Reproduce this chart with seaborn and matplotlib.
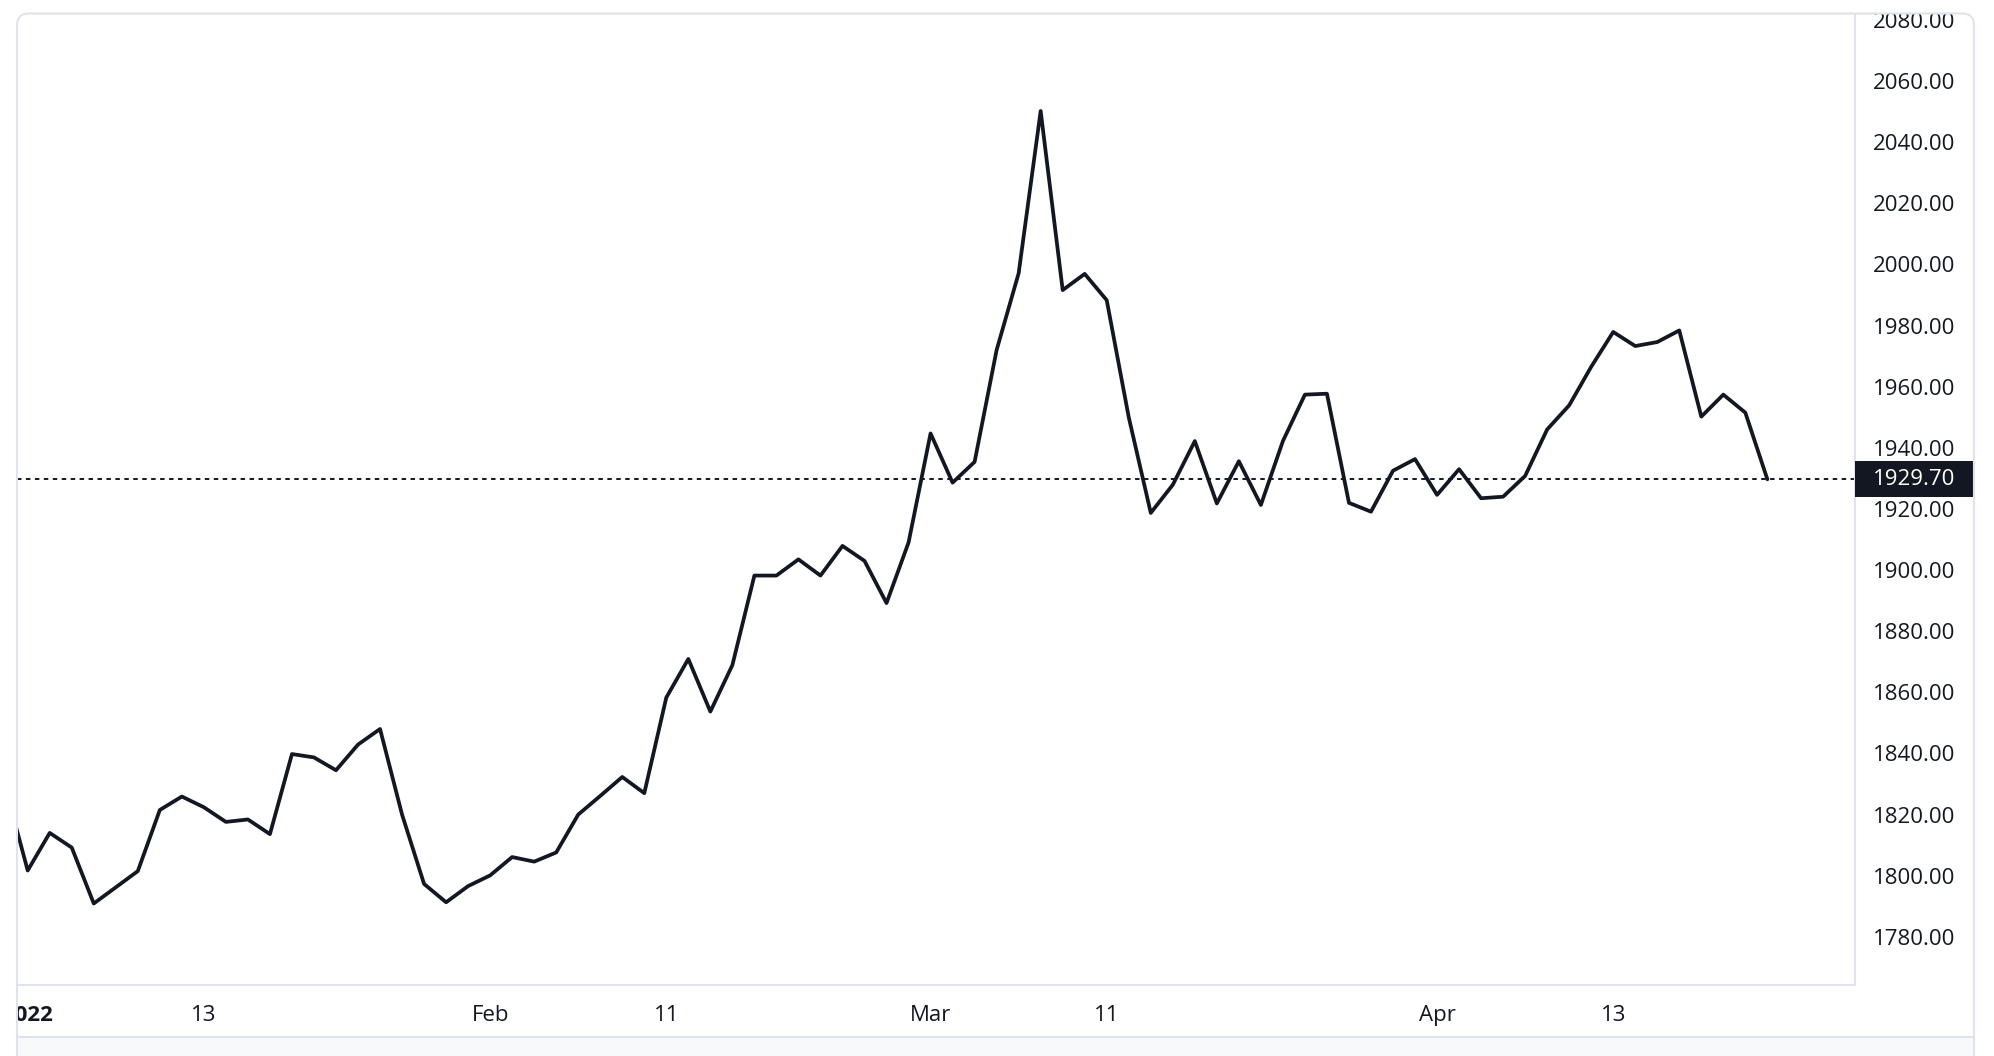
import numpy as np
import pandas as pd
import matplotlib
matplotlib.use("Agg")
import matplotlib.pyplot as plt
import matplotlib.transforms as mtransforms
from matplotlib.patches import Rectangle, FancyBboxPatch
import seaborn as sns

# daily closes, 31 Dec 2021 .. 22 Apr 2022 (one bar per weekday)
dates = pd.bdate_range("2021-12-31", "2022-04-22")
closes = [
    1828.6, 1801.7, 1814.0, 1809.2, 1790.9, 1796.2, 1801.5, 1821.5, 1825.9, 1822.4,
    1817.6, 1818.4, 1813.6, 1839.8, 1838.7, 1834.5, 1842.9, 1848.0, 1820.0, 1797.3,
    1791.3, 1796.6, 1800.1, 1806.1, 1804.6, 1807.6, 1820.0, 1826.1, 1832.3, 1827.0,
    1858.3, 1870.9, 1853.7, 1868.9, 1898.2, 1898.2, 1903.5, 1898.2, 1907.9, 1903.0,
    1889.2, 1909.0, 1944.7, 1928.6, 1935.4, 1972.0, 1997.1, 2050.2, 1991.6, 1996.9,
    1988.3, 1950.0, 1918.7, 1927.9, 1942.2, 1921.8, 1935.6, 1921.3, 1942.2, 1957.4,
    1957.7, 1922.0, 1919.1, 1932.5, 1936.3, 1924.6, 1933.0, 1923.5, 1924.0, 1930.8,
    1946.0, 1953.9, 1966.5, 1977.9, 1973.3, 1974.6, 1978.4, 1950.2, 1957.4, 1951.5,
    1929.7,
]

tick_dates = ["2022-01-03", "2022-01-13", "2022-02-01", "2022-02-11",
              "2022-03-01", "2022-03-11", "2022-04-01", "2022-04-13"]
tick_labels = ["2022", "13", "Feb", "11", "Mar", "11", "Apr", "13"]
price_ticks = list(range(1780, 2081, 20))

INK = "#131722"
BORDER = "#e0e3eb"
W, H = 1994, 1056

df = pd.DataFrame({"date": dates, "close": closes})
df["bar"] = np.arange(len(df))

sns.set_theme(style="white")
plt.rcParams["font.family"] = ["Open Sans", "DejaVu Sans"]

fig = plt.figure(figsize=(W / 100, H / 100), dpi=100)
fig.patch.set_facecolor("white")

# plot area in pixels: x 17..1855, y 13.5..984.5 (from top)
ax = fig.add_axes([17 / W, (H - 984.5) / H, (1855 - 17) / W, (984.5 - 13.5) / H])
sns.lineplot(data=df, x="bar", y="close", ax=ax, color=INK, linewidth=2.7)

last = df["close"].iloc[-1]
ax.axhline(last, color=INK, linewidth=1.4, dashes=(2.3, 2.3))

ax.set_xlim(0.514, 83.98)
ax.set_ylim(1764.4, 2082.1)

tick_pos = [int(df.index[df["date"] == pd.Timestamp(d)][0]) for d in tick_dates]
ax.set_xticks(tick_pos, tick_labels)
ax.yaxis.tick_right()
ax.set_yticks(price_ticks, [f"{v:.2f}" for v in price_ticks])
ax.tick_params(axis="both", length=0, labelsize=16, labelcolor=INK)
ax.tick_params(axis="y", pad=13)
ax.tick_params(axis="x", pad=15)
for lbl in ax.get_xticklabels():
    if lbl.get_text() == "2022":
        lbl.set_fontweight("bold")
ax.set_xlabel("")
ax.set_ylabel("")

for side in ["left", "top"]:
    ax.spines[side].set_visible(False)
for side in ["right", "bottom"]:
    ax.spines[side].set_color(BORDER)
    ax.spines[side].set_linewidth(1.5)

# last price tag on the price scale
trans = mtransforms.blended_transform_factory(ax.transAxes, ax.transData)
units_per_px = (2082.1 - 1764.4) / 971
ax.add_patch(Rectangle((1.0, last - 18 * units_per_px), 120 / 1838, 36 * units_per_px,
                       transform=trans, facecolor=INK, edgecolor="none",
                       clip_on=False, zorder=5))
ax.text(1 + 18 / 1838, last, f"{last:.2f}", transform=trans, color="white",
        fontsize=16, ha="left", va="center", zorder=6, clip_on=False)

# frame around the whole widget
ov = fig.add_axes([0, 0, 1, 1], zorder=10)
ov.set_xlim(0, W)
ov.set_ylim(H, 0)
ov.axis("off")
ov.add_patch(Rectangle((0, 0), 16, H, facecolor="white", edgecolor="none"))
ov.add_patch(Rectangle((0, 0), W, 12.5, facecolor="white", edgecolor="none"))
ov.add_patch(Rectangle((17, 1037), 1957, 30, facecolor="#f8f9fb", edgecolor="none"))
ov.plot([17, 1974], [1037, 1037], color=BORDER, linewidth=1.5)
ov.add_patch(FancyBboxPatch((17, 13.5), 1957, 1100,
                            boxstyle="round,pad=0,rounding_size=12",
                            fill=False, edgecolor=BORDER, linewidth=1.5))

fig.savefig("out.png", dpi=100)
